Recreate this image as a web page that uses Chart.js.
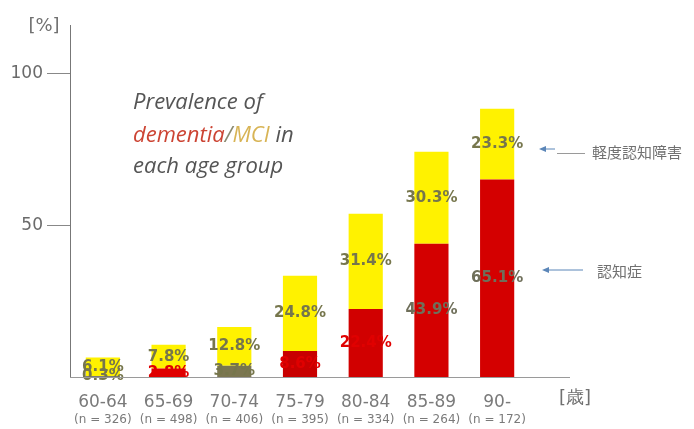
<!DOCTYPE html>
<html>
<head>
<meta charset="utf-8">
<script src="https://cdn.jsdelivr.net/npm/chart.js@4"></script>
<style>
  html, body { margin: 0; padding: 0; background: #fff; }
  #wrap { width: 694px; height: 429px; position: relative; }
</style>
</head>
<body>
<div id="wrap"><canvas id="chart" width="694" height="429"></canvas></div>
<script>
// age groups and sample sizes
const ageLabels = ['60-64', '65-69', '70-74', '75-79', '80-84', '85-89', '90-'];
const nLabels = ['(n = 326)', '(n = 498)', '(n = 406)', '(n = 395)', '(n = 334)', '(n = 264)', '(n = 172)'];

// prevalence [%]
const dementia = [0.3, 2.8, 3.7, 8.6, 22.4, 43.9, 65.1];
const mci = [6.1, 7.8, 12.8, 24.8, 31.4, 30.3, 23.3];

const yTicks = [50, 100];

const GREY_TEXT = '#76764c';

// percentage labels in the middle of each segment
const segmentLabels = {
    id: 'segmentLabels',
    afterDatasetsDraw(chart) {
        const ctx = chart.ctx;
        ctx.save();
        ctx.font = 'bold 15px "DejaVu Sans", sans-serif';
        ctx.textAlign = 'center';
        ctx.textBaseline = 'middle';
        chart.data.datasets.forEach((ds, i) => {
            const meta = chart.getDatasetMeta(i);
            meta.data.forEach((bar, j) => {
                const y = (bar.y + bar.base) / 2;
                ctx.fillStyle = ds.labelColors[j];
                ctx.fillText(ds.data[j].toFixed(1) + '%', bar.x, y);
            });
        });
        ctx.restore();
    }
};

// title text, arrows, units, n-labels, extended baseline
const decorations = {
    id: 'decorations',
    afterDraw(chart) {
        const ctx = chart.ctx;
        const x = chart.scales.x;
        const area = chart.chartArea;
        ctx.save();

        // baseline
        ctx.strokeStyle = '#9a9a9a';
        ctx.lineWidth = 1;
        ctx.beginPath();
        ctx.moveTo(area.left, area.bottom + 0.5);
        ctx.lineTo(570, area.bottom + 0.5);
        ctx.stroke();

        // n = ... under the age labels
        ctx.fillStyle = '#7a7a7a';
        ctx.font = '12px "DejaVu Sans", sans-serif';
        ctx.textAlign = 'center';
        ctx.textBaseline = 'middle';
        nLabels.forEach((t, i) => ctx.fillText(t, x.getPixelForValue(i), 420));

        // units
        ctx.font = '18px "DejaVu Sans", sans-serif';
        ctx.fillStyle = '#707070';
        ctx.fillText('[%]', 44, 26);
        ctx.fillText('[歳]', 575, 398);

        // title
        ctx.textAlign = 'left';
        ctx.textBaseline = 'alphabetic';
        ctx.font = 'italic 22px "Open Sans", sans-serif';
        ctx.fillStyle = '#555';
        ctx.fillText('Prevalence of', 133, 109);
        let tx = 133;
        const parts = [['dementia', '#cc4433'], ['/', '#8a8a70'], ['MCI', '#d8b455'], [' in', '#555']];
        parts.forEach(p => {
            ctx.fillStyle = p[1];
            ctx.fillText(p[0], tx, 142);
            tx += ctx.measureText(p[0]).width;
        });
        ctx.fillStyle = '#555';
        ctx.fillText('each age group', 133, 173);

        // arrows
        function arrow(x1, x2, y) {
            ctx.strokeStyle = '#5b86b8';
            ctx.fillStyle = '#5b86b8';
            ctx.lineWidth = 1;
            ctx.beginPath();
            ctx.moveTo(x1 + 4, y);
            ctx.lineTo(x2, y);
            ctx.stroke();
            ctx.beginPath();
            ctx.moveTo(x1, y);
            ctx.lineTo(x1 + 7, y - 3);
            ctx.lineTo(x1 + 7, y + 3);
            ctx.closePath();
            ctx.fill();
        }
        arrow(539, 555, 149);
        arrow(542, 583, 270);

        ctx.strokeStyle = '#9a9a9a';
        ctx.beginPath();
        ctx.moveTo(557, 153.5);
        ctx.lineTo(585, 153.5);
        ctx.stroke();

        ctx.fillStyle = '#707070';
        ctx.font = '15px "Noto Sans CJK JP", sans-serif';
        ctx.textBaseline = 'middle';
        ctx.fillText('軽度認知障害', 592, 152);
        ctx.fillText('認知症', 597, 271);

        ctx.restore();
    }
};

const ctx = document.getElementById('chart').getContext('2d');
const chart = new Chart(ctx, {
    type: 'bar',
    data: {
        labels: ageLabels,
        datasets: [{
            label: 'dementia',
            data: dementia,
            backgroundColor: ['#7a7a7a', '#e00000', '#7b7650', '#c80000', '#d10000', '#d40000', '#d40000'],
            labelColors: [GREY_TEXT, '#e00000', GREY_TEXT, '#e00000', '#e00000', '#6f6f5a', '#6f6f5a'],
            borderRadius: 2,
            borderSkipped: false,
            barPercentage: 0.52,
            categoryPercentage: 1
        }, {
            label: 'MCI',
            data: mci,
            backgroundColor: '#fff200',
            labelColors: mci.map(() => GREY_TEXT),
            borderRadius: 0,
            barPercentage: 0.52,
            categoryPercentage: 1
        }]
    },
    options: {
        responsive: false,
        animation: false,
        layout: { padding: { left: 0, right: 164, top: 25, bottom: 0 } },
        plugins: {
            legend: { display: false },
            tooltip: { enabled: false }
        },
        scales: {
            x: {
                stacked: true,
                offset: true,
                grid: { display: false, drawTicks: false },
                border: { display: false },
                ticks: {
                    color: '#7a7a7a',
                    font: { family: 'DejaVu Sans', size: 17 },
                    padding: 15,
                    maxRotation: 0,
                    autoSkip: false
                },
                afterFit(scale) { scale.height = 52; }
            },
            y: {
                stacked: true,
                min: 0,
                max: 116,
                afterBuildTicks(scale) { scale.ticks = yTicks.map(v => ({ value: v })); },
                afterFit(scale) { scale.width = 70; },
                grid: {
                    drawOnChartArea: false,
                    drawTicks: true,
                    tickLength: 23,
                    color: '#888'
                },
                border: { display: true, color: '#777' },
                ticks: {
                    color: '#6a6a6a',
                    font: { family: 'DejaVu Sans', size: 17 },
                    padding: 4
                }
            }
        }
    },
    plugins: [segmentLabels, decorations]
});
</script>
</body>
</html>
